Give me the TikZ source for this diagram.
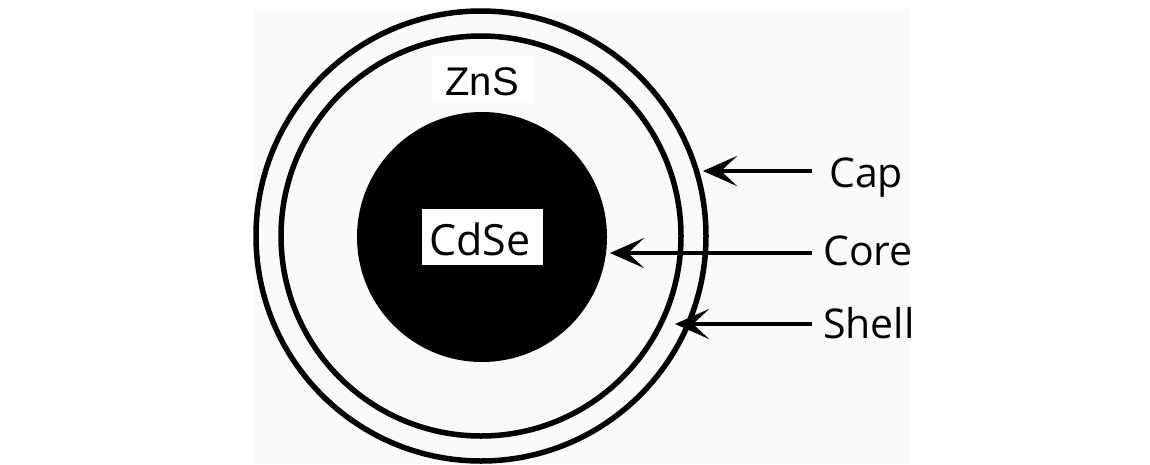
\documentclass[tikz,border=0pt]{standalone}
\usepackage{fontspec}
\setmainfont{Open Sans}
\newfontfamily\zfont{Liberation Sans}
\usetikzlibrary{arrows.meta}
\definecolor{offwhite}{RGB}{250,250,250}
\tikzset{
  ring/.style={circle, draw=black, line width=5.5pt, inner sep=0pt, outer sep=0pt},
  pointer/.style={line width=4.5pt, -{Stealth[length=34pt, width=30pt, inset=16pt]}},
  lbl/.style={anchor=base west, inner sep=0pt, font=\fontsize{41}{48}\selectfont},
}
\begin{document}
\begin{tikzpicture}[x=1pt, y=-1pt]
\useasboundingbox (0,0) rectangle (1150,464);
\fill[white] (0,0) rectangle (1150,464);
\fill[offwhite] (254,9) rectangle (911,464);
% rings
\node[ring, minimum size=450pt] (cap) at (481,236) {};
\node[ring, minimum size=400pt] (shell) at (481,236) {};
\node[circle, fill=black, inner sep=0pt, minimum size=250pt] (core) at (482,237) {};
% inner labels
\fill[white] (432,56) rectangle (533,103);
\node[anchor=base, inner sep=0pt, font=\zfont\fontsize{40}{46}\selectfont] (zns) at (482,95) {ZnS};
\node[fill=white, minimum width=121pt, minimum height=56pt, inner sep=0pt] (cdsebox) at (482.5,237) {};
\node[anchor=base, inner sep=0pt, font=\fontsize{43}{50}\selectfont] (cdse) at (480,255) {CdSe};
% outer labels
\node[lbl] (caplbl) at (829,187) {Cap};
\node[lbl] (corelbl) at (823,265) {Core};
\node[lbl] (shelllbl) at (823,338) {Shell};
% arrows
\coordinate (capfrom) at (812,171);
\coordinate (capto) at (703,171);
\coordinate (corefrom) at (812,253);
\coordinate (coreto) at (610,253);
\coordinate (shellfrom) at (812,324);
\coordinate (shellto) at (675,324);
\draw[pointer] (capfrom) -- (capto);
\draw[pointer] (corefrom) -- (coreto);
\draw[pointer] (shellfrom) -- (shellto);
\end{tikzpicture}
\end{document}
